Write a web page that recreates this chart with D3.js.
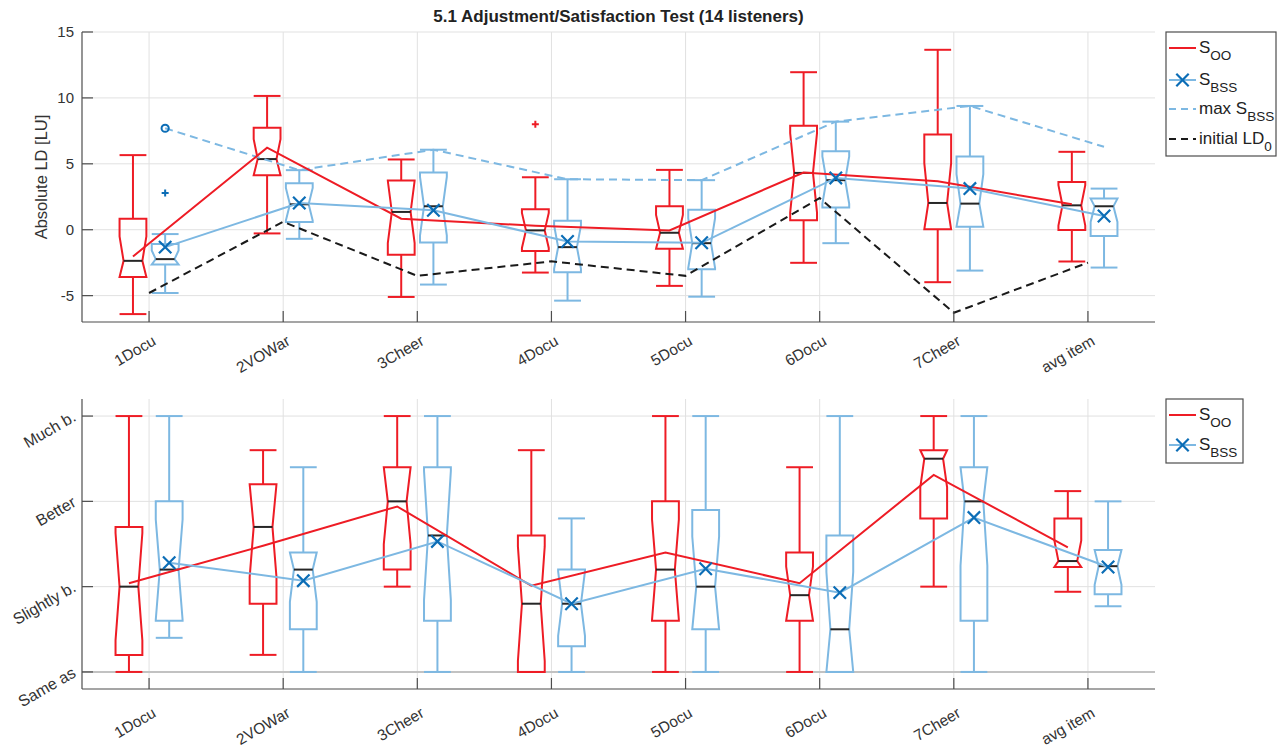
<!DOCTYPE html>
<html>
<head>
<meta charset="utf-8">
<script src="https://cdn.jsdelivr.net/npm/d3@7"></script>
<style>
  body { margin: 0; background: #fff; }
  svg { font-family: "Liberation Sans", Arial, Helvetica, sans-serif; }
</style>
</head>
<body>
<svg id="chart" width="1277" height="748"></svg>
<script>
/* values, one array per statistic */

var categories = ["1Docu", "2VOWar", "3Cheer", "4Docu", "5Docu", "6Docu", "7Cheer", "avg item"];

// top panel: absolute loudness difference [LU]
var ldTicks = [-5, 0, 5, 10, 15];

var ldOOLow  = [-6.40, -0.28, -5.10, -3.25, -4.26, -2.51, -3.98, -2.41];
var ldOOQ1   = [-3.58,  4.14, -1.90, -1.62, -1.45,  0.71,  0.03, -0.03];
var ldOOMed  = [-2.36,  5.36,  1.35, -0.05, -0.23,  4.31,  2.03,  1.85];
var ldOOQ3   = [ 0.84,  7.74,  3.73,  1.55,  1.78,  7.89,  7.23,  3.63];
var ldOOHigh = [ 5.66, 10.15,  5.33,  3.98,  4.54, 11.95, 13.65,  5.91];
var ldOOMean = [-2.03,  6.22,  0.84,  0.30, -0.05,  4.34,  3.68,  1.93];

var ldBSSLow  = [-4.80, -0.69, -4.16, -5.38, -5.08, -1.02, -3.10, -2.87];
var ldBSSQ1   = [-2.64,  0.58, -0.96, -3.22, -3.00,  1.68,  0.23, -0.48];
var ldBSSMed  = [-2.23,  1.93,  1.78, -1.32, -1.02,  3.76,  1.98,  1.78];
var ldBSSQ3   = [-1.09,  3.53,  4.34,  0.69,  1.52,  5.96,  5.56,  2.36];
var ldBSSHigh = [-0.33,  4.52,  6.07,  3.83,  3.76,  8.20,  9.39,  3.12];
var ldBSSMean = [-1.32,  2.03,  1.47, -0.89, -0.99,  3.93,  3.12,  1.04];

var ldBSSMax  = [ 7.70,  4.52,  6.07,  3.83,  3.76,  8.20,  9.39,  6.29];
var ldInitial = [-4.80,  0.60, -3.50, -2.40, -3.50,  2.40, -6.30, -2.50];

var ldOOOutCats  = ["4Docu"];
var ldOOOutVals  = [8.0];
var ldBSSOutCats = ["1Docu"];
var ldBSSOutVals = [2.79];

// bottom panel: satisfaction rating
var rateLabels = ["Same as", "Slightly b.", "Better", "Much b."];

var rateOOLow  = [0.00, 0.20, 1.00, 0.00, 0.00, 0.00, 1.00, 0.94];
var rateOOQ1   = [0.20, 0.80, 1.20, 0.00, 0.60, 0.60, 1.80, 1.23];
var rateOOMed  = [1.00, 1.70, 2.00, 0.80, 1.20, 0.90, 2.50, 1.30];
var rateOOQ3   = [1.70, 2.20, 2.40, 1.60, 2.00, 1.40, 2.60, 1.80];
var rateOOHigh = [3.00, 2.60, 3.00, 2.60, 3.00, 2.40, 3.00, 2.12];
var rateOOMean = [1.04, 1.48, 1.94, 1.01, 1.40, 1.04, 2.31, 1.46];

var rateBSSLow  = [0.40, 0.00, 0.00, 0.00, 0.00, 0.00, 0.00, 0.77];
var rateBSSQ1   = [0.60, 0.50, 0.60, 0.30, 0.50, 0.00, 0.60, 0.91];
var rateBSSMed  = [1.20, 1.20, 1.60, 0.80, 1.00, 0.50, 2.00, 1.24];
var rateBSSQ3   = [2.00, 1.40, 2.40, 1.20, 1.90, 1.60, 2.40, 1.43];
var rateBSSHigh = [3.00, 2.40, 3.00, 1.80, 3.00, 3.00, 3.00, 2.00];
var rateBSSMean = [1.28, 1.07, 1.53, 0.80, 1.21, 0.93, 1.81, 1.23];

var nListeners = 14;

var RED = "#ee1c25", LIGHT = "#7db8e2", DARK = "#0b6db6", INK = "#262626";

var svg = d3.select("#chart");

var x = d3.scaleLinear().domain([0.5, 8.5]).range([82, 1155]);
var yTop = d3.scaleLinear().domain([-7, 15]).range([322, 32]);
var yBot = d3.scaleLinear().domain([-0.2, 3.2]).range([689, 399]);

function stats(lo, q1, med, q3, hi){
  return categories.map(function(c, i){
    return {lo: lo[i], q1: q1[i], med: med[i], q3: q3[i], hi: hi[i]};
  });
}

function grid(g, y, yvals){
  g.selectAll(".gx").data(categories).enter().append("line")
    .attr("x1", function(d, i){ return x(i + 1); })
    .attr("x2", function(d, i){ return x(i + 1); })
    .attr("y1", y.range()[1]).attr("y2", y.range()[0])
    .attr("stroke", "#e1e1e1").attr("stroke-width", 1);
  g.selectAll(".gy").data(yvals).enter().append("line")
    .attr("x1", x.range()[0]).attr("x2", x.range()[1])
    .attr("y1", function(d){ return y(d); })
    .attr("y2", function(d){ return y(d); })
    .attr("stroke", "#e1e1e1").attr("stroke-width", 1);
}

function axes(g, y, yvals, ylabels, xlabOffset){
  var x0 = x.range()[0], x1 = x.range()[1], yb = y.range()[0], yt = y.range()[1];
  g.append("line").attr("x1", x0).attr("x2", x0).attr("y1", yt).attr("y2", yb)
    .attr("stroke", "#4d4d4d").attr("stroke-width", 1.2);
  g.append("line").attr("x1", x0).attr("x2", x1).attr("y1", yb).attr("y2", yb)
    .attr("stroke", "#4d4d4d").attr("stroke-width", 1.2);
  // inward ticks
  g.selectAll(".ty").data(yvals).enter().append("line")
    .attr("x1", x0).attr("x2", x0 + 11)
    .attr("y1", function(d){ return y(d); }).attr("y2", function(d){ return y(d); })
    .attr("stroke", "#4d4d4d").attr("stroke-width", 1.2);
  g.selectAll(".tx").data(categories).enter().append("line")
    .attr("x1", function(d, i){ return x(i + 1); }).attr("x2", function(d, i){ return x(i + 1); })
    .attr("y1", yb).attr("y2", yb - 11)
    .attr("stroke", "#4d4d4d").attr("stroke-width", 1.2);
  // category labels, rotated
  g.selectAll(".lx").data(categories).enter().append("text")
    .attr("transform", function(d, i){
      return "translate(" + (x(i + 1) + 8) + "," + (yb + xlabOffset) + ") rotate(-30)";
    })
    .attr("text-anchor", "end").attr("font-size", 15.5).attr("fill", "#333")
    .text(function(d){ return d; });
  if (ylabels){
    g.selectAll(".ly").data(yvals).enter().append("text")
      .attr("transform", function(d, i){
        return "translate(" + (x0 - 5) + "," + (y(d) + 4) + ") rotate(-30)";
      })
      .attr("text-anchor", "end").attr("font-size", 16).attr("fill", "#333")
      .text(function(d, i){ return ylabels[i]; });
  } else {
    g.selectAll(".ly").data(yvals).enter().append("text")
      .attr("x", x0 - 8).attr("y", function(d){ return y(d); })
      .attr("dy", "0.36em")
      .attr("text-anchor", "end").attr("font-size", 15).attr("fill", "#333")
      .text(function(d){ return d; });
  }
}

function boxes(g, y, data, off, color){
  var hw = x(1.1) - x(1);   // half box width
  var ins = hw * 0.3;
  data.forEach(function(s, i){
    var cx = x(i + 1 + off);
    var half = 1.57 * (s.q3 - s.q1) / Math.sqrt(nListeners);
    var nHi = Math.min(s.med + half, s.q3), nLo = Math.max(s.med - half, s.q1);
    var gb = g.append("g").attr("fill", "none").attr("stroke-width", 2);
    // whiskers
    gb.append("line").attr("x1", cx).attr("x2", cx).attr("y1", y(s.q3)).attr("y2", y(s.hi)).attr("stroke", color);
    gb.append("line").attr("x1", cx).attr("x2", cx).attr("y1", y(s.q1)).attr("y2", y(s.lo)).attr("stroke", color);
    gb.append("line").attr("x1", cx - hw).attr("x2", cx + hw).attr("y1", y(s.hi)).attr("y2", y(s.hi)).attr("stroke", color);
    gb.append("line").attr("x1", cx - hw).attr("x2", cx + hw).attr("y1", y(s.lo)).attr("y2", y(s.lo)).attr("stroke", color);
    // notched box
    var p = d3.path();
    p.moveTo(cx - hw, y(s.q3)); p.lineTo(cx + hw, y(s.q3));
    p.lineTo(cx + hw, y(nHi)); p.lineTo(cx + hw - ins, y(s.med));
    p.lineTo(cx + hw, y(nLo)); p.lineTo(cx + hw, y(s.q1));
    p.lineTo(cx - hw, y(s.q1)); p.lineTo(cx - hw, y(nLo));
    p.lineTo(cx - hw + ins, y(s.med)); p.lineTo(cx - hw, y(nHi));
    p.closePath();
    gb.append("path").attr("d", p.toString()).attr("stroke", color).attr("stroke-linejoin", "miter");
    gb.append("line").attr("x1", cx - hw + ins).attr("x2", cx + hw - ins)
      .attr("y1", y(s.med)).attr("y2", y(s.med)).attr("stroke", INK);
  });
}

function seriesLine(g, y, vals, off, color, dash){
  var line = d3.line().x(function(d, i){ return x(i + 1 + off); }).y(function(d){ return y(d); });
  g.append("path").attr("d", line(vals)).attr("fill", "none")
    .attr("stroke", color).attr("stroke-width", 2)
    .attr("stroke-dasharray", dash || null);
}

function crosses(g, y, vals, off){
  vals.forEach(function(v, i){
    var cx = x(i + 1 + off), cy = y(v), r = 6.2;
    g.append("path").attr("d", "M" + (cx - r) + "," + (cy - r) + "L" + (cx + r) + "," + (cy + r) +
                               "M" + (cx - r) + "," + (cy + r) + "L" + (cx + r) + "," + (cy - r))
      .attr("stroke", DARK).attr("stroke-width", 2.2);
  });
}

function plus(g, cx, cy, color){
  g.append("path").attr("d", "M" + (cx - 3.5) + "," + cy + "h7M" + cx + "," + (cy - 3.5) + "v7")
    .attr("stroke", color).attr("stroke-width", 2);
}

function legend(g, x0, y0, w, h, rows){
  g.append("rect").attr("x", x0).attr("y", y0).attr("width", w).attr("height", h)
    .attr("fill", "#fff").attr("stroke", "#4d4d4d").attr("stroke-width", 1.2);
  rows.forEach(function(r){
    g.append("line").attr("x1", x0 + 3).attr("x2", x0 + 30).attr("y1", r.y).attr("y2", r.y)
      .attr("stroke", r.color).attr("stroke-width", 2).attr("stroke-dasharray", r.dash || null);
    if (r.cross){
      var cx = x0 + 16.5, cy = r.y, s = 6.2;
      g.append("path").attr("d", "M" + (cx - s) + "," + (cy - s) + "L" + (cx + s) + "," + (cy + s) +
                                 "M" + (cx - s) + "," + (cy + s) + "L" + (cx + s) + "," + (cy - s))
        .attr("stroke", DARK).attr("stroke-width", 2.2);
    }
    var t = g.append("text").attr("x", x0 + 33).attr("y", r.y + 5).attr("font-size", 17).attr("fill", "#222");
    t.append("tspan").text(r.main);
    t.append("tspan").text(r.sub).attr("font-size", 13.5).attr("dy", 7);
  });
}

/* ---- top panel ---- */
var topPanel = svg.append("g");
grid(topPanel, yTop, ldTicks);
boxes(topPanel, yTop, stats(ldOOLow, ldOOQ1, ldOOMed, ldOOQ3, ldOOHigh), -0.12, RED);
boxes(topPanel, yTop, stats(ldBSSLow, ldBSSQ1, ldBSSMed, ldBSSQ3, ldBSSHigh), 0.12, LIGHT);
seriesLine(topPanel, yTop, ldInitial, 0, "#1a1a1a", "8,5");
seriesLine(topPanel, yTop, ldBSSMax, 0.12, LIGHT, "8,5");
seriesLine(topPanel, yTop, ldOOMean, -0.12, RED);
seriesLine(topPanel, yTop, ldBSSMean, 0.12, LIGHT);
crosses(topPanel, yTop, ldBSSMean, 0.12);
topPanel.append("circle").attr("cx", x(1.12)).attr("cy", yTop(ldBSSMax[0])).attr("r", 3.6)
  .attr("fill", "none").attr("stroke", DARK).attr("stroke-width", 2);
ldOOOutCats.forEach(function(c, k){ plus(topPanel, x(categories.indexOf(c) + 1 - 0.12), yTop(ldOOOutVals[k]), RED); });
ldBSSOutCats.forEach(function(c, k){ plus(topPanel, x(categories.indexOf(c) + 1 + 0.12), yTop(ldBSSOutVals[k]), DARK); });
axes(topPanel, yTop, ldTicks, null, 22);

topPanel.append("text").attr("x", (x.range()[0] + x.range()[1]) / 2).attr("y", 22)
  .attr("text-anchor", "middle").attr("font-size", 17).attr("font-weight", "bold").attr("fill", "#222")
  .text("5.1 Adjustment/Satisfaction Test (14 listeners)");
topPanel.append("text").attr("transform", "translate(47," + ((yTop.range()[0] + yTop.range()[1]) / 2) + ") rotate(-90)")
  .attr("text-anchor", "middle").attr("font-size", 16.5).attr("fill", "#333")
  .text("Absolute LD [LU]");

legend(topPanel, 1166, 32, 110, 124, [
  {y: 48, color: RED, main: "S", sub: "OO"},
  {y: 80, color: LIGHT, cross: true, main: "S", sub: "BSS"},
  {y: 109, color: LIGHT, dash: "7,5", main: "max S", sub: "BSS"},
  {y: 139, color: "#1a1a1a", dash: "7,5", main: "initial LD", sub: "0"}
]);

/* ---- bottom panel ---- */
var botPanel = svg.append("g");
var rateTicks = rateLabels.map(function(d, i){ return i; });
grid(botPanel, yBot, rateTicks);
botPanel.append("line").attr("x1", x.range()[0]).attr("x2", x.range()[1])
  .attr("y1", yBot(0)).attr("y2", yBot(0)).attr("stroke", "#c2c2c2").attr("stroke-width", 2);
boxes(botPanel, yBot, stats(rateOOLow, rateOOQ1, rateOOMed, rateOOQ3, rateOOHigh), -0.15, RED);
boxes(botPanel, yBot, stats(rateBSSLow, rateBSSQ1, rateBSSMed, rateBSSQ3, rateBSSHigh), 0.15, LIGHT);
seriesLine(botPanel, yBot, rateOOMean, -0.15, RED);
seriesLine(botPanel, yBot, rateBSSMean, 0.15, LIGHT);
crosses(botPanel, yBot, rateBSSMean, 0.15);
axes(botPanel, yBot, rateTicks, rateLabels, 27);

legend(botPanel, 1166, 399, 77, 64, [
  {y: 415, color: RED, main: "S", sub: "OO"},
  {y: 445, color: LIGHT, cross: true, main: "S", sub: "BSS"}
]);
</script>
</body>
</html>
